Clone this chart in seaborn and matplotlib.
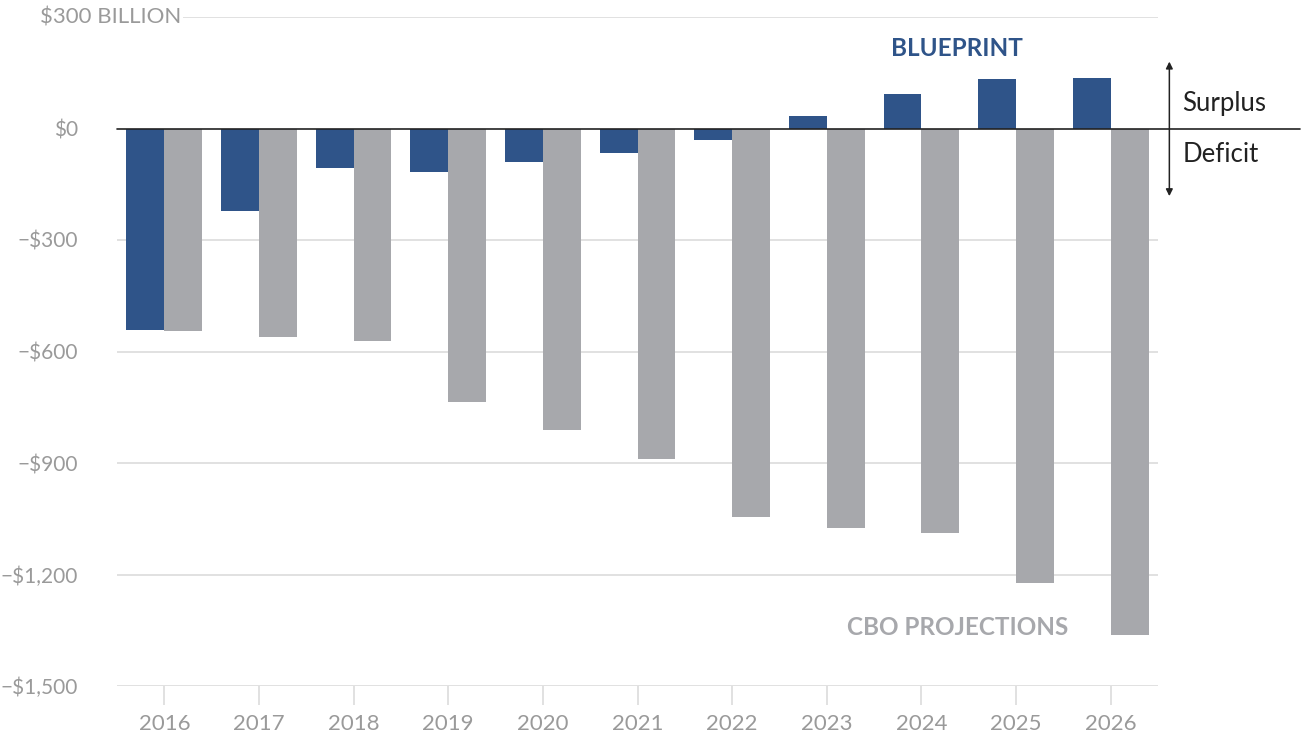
import matplotlib
matplotlib.use("Agg")
import matplotlib.pyplot as plt
import seaborn as sns
import pandas as pd

# values in $ billion
years = ["2016", "2017", "2018", "2019", "2020", "2021", "2022", "2023", "2024", "2025", "2026"]
blueprint = [-543, -223, -105, -118, -91, -67, -30, 34, 92, 134, 136]
cbo = [-544, -562, -573, -737, -810, -890, -1044, -1076, -1089, -1224, -1364]
y_ticks = [-1500, -1200, -900, -600, -300, 0, 300]

df = pd.DataFrame({
    "year": years * 2,
    "source": ["Blueprint"] * len(years) + ["CBO"] * len(years),
    "value": blueprint + cbo,
})

sns.set_theme(style="white")
plt.rcParams["font.family"] = ["Lato", "DejaVu Sans"]

blue = "#2f5489"
gray = "#a7a8ac"
label_gray = "#9a9a9a"
grid_gray = "#d9d9d9"

fig = plt.figure(figsize=(13.01, 7.33), dpi=100)
ax = fig.add_axes([117 / 1301, 1 - 686 / 733, (1158 - 117) / 1301, (686 - 17) / 733])

sns.barplot(data=df, x="year", y="value", hue="source", order=years,
            hue_order=["Blueprint", "CBO"], palette=[blue, gray],
            saturation=1, width=0.8, legend=False, ax=ax, zorder=3,
            linewidth=0, edgecolor="none")

ax.set_xlim(-0.5, len(years) - 0.5)
ax.set_ylim(-1500, 300)

for v in y_ticks:
    if v == 0:
        continue
    ax.axhline(v, color=grid_gray, lw=1.1, zorder=1)
# zero line, runs out past the plot under the annotation
ax.plot([-0.5, 12.0], [0, 0], color="#222222", lw=1.2, zorder=5, clip_on=False)

def fmt(v):
    if v == 300:
        return "$300 BILLION"
    if v == 0:
        return "$0"
    return "\u2212${:,}".format(abs(v))

ax.set_yticks(y_ticks[:-1])
ax.set_yticklabels([fmt(v) for v in y_ticks[:-1]])
ax.tick_params(axis="y", length=0, pad=28, labelsize=15, labelcolor=label_gray)
ax.text(-0.5 - 77 / 94.6, 300, fmt(300), ha="left", va="center", fontsize=16,
        color=label_gray, zorder=6,
        bbox=dict(facecolor="white", edgecolor="none", pad=1))

ax.tick_params(axis="x", length=14, width=1.1, color=grid_gray, pad=6,
               labelsize=16, labelcolor=label_gray, bottom=True)
ax.set_xlabel("")
ax.set_ylabel("")
for s in ax.spines.values():
    s.set_visible(False)

ax.text(8.38, 215, "BLUEPRINT", color=blue, fontsize=17.5, fontweight="bold",
        ha="center", va="center")
ax.text(8.38, -1343, "CBO PROJECTIONS", color=gray, fontsize=17.5, fontweight="bold",
        ha="center", va="center")

ax.annotate("", xy=(10.62, 180), xytext=(10.62, -182),
            arrowprops=dict(arrowstyle="<|-|>", color="#222222", lw=1.1,
                            mutation_scale=10, shrinkA=0, shrinkB=0),
            annotation_clip=False)
ax.text(10.76, 68, "Surplus", fontsize=18.5, color="#222222", ha="left", va="center",
        clip_on=False)
ax.text(10.76, -70, "Deficit", fontsize=18.5, color="#222222", ha="left", va="center",
        clip_on=False)

fig.savefig("out.png", dpi=100)
